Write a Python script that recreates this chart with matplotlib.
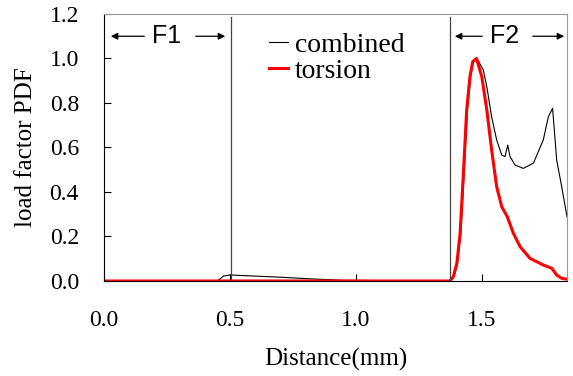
import matplotlib.pyplot as plt

# combined load factor PDF
comb_x = [0.0, 0.45, 0.474, 0.50, 0.60, 0.70, 0.83, 0.95, 1.2, 1.373, 1.389, 1.403, 1.416,
          1.429, 1.442, 1.455, 1.466, 1.48, 1.505, 1.519, 1.538, 1.558, 1.578, 1.591, 1.602,
          1.611, 1.631, 1.664, 1.704, 1.743, 1.763, 1.78, 1.796, 1.816, 1.837]
comb_y = [0.0, 0.0, 0.022, 0.027, 0.022, 0.017, 0.009, 0.003, 0.001, 0.002, 0.02, 0.08,
          0.215, 0.485, 0.768, 0.918, 0.986, 1.0, 0.948, 0.873, 0.738, 0.634, 0.566, 0.559,
          0.611, 0.559, 0.521, 0.506, 0.53, 0.634, 0.738, 0.776, 0.544, 0.424, 0.289]

# torsion load factor PDF
tor_x = [0.0, 1.373, 1.386, 1.40, 1.413, 1.426, 1.439, 1.452, 1.463, 1.478, 1.499, 1.519,
         1.538, 1.558, 1.578, 1.60, 1.624, 1.651, 1.69, 1.743, 1.777, 1.796, 1.816, 1.837]
tor_y = [0.0, 0.0, 0.019, 0.08, 0.215, 0.485, 0.768, 0.918, 0.986, 1.0, 0.918, 0.768,
         0.589, 0.424, 0.334, 0.289, 0.215, 0.154, 0.102, 0.072, 0.057, 0.027, 0.012, 0.008]

zone_lines = [0.504, 1.373]

plt.rcParams['font.family'] = ['Liberation Serif']

fig = plt.figure(figsize=(5.73, 3.76), dpi=100)
ax = fig.add_axes([0.1815, 0.2527, 0.808, 0.7101])

ax.plot(comb_x, comb_y, color='black', lw=0.8, label='combined')
ax.plot(tor_x, tor_y, color='red', lw=2.2, label='torsion')
for xv in zone_lines:
    ax.axvline(xv, color='#444444', lw=0.9, ymax=0.989)

ax.set_xlim(0, 1.837)
ax.set_ylim(0, 1.2)
ax.set_xticks([0.0, 0.5, 1.0, 1.5])
ax.set_xticklabels(['0.0', '0.5', '1.0', '1.5'])
ax.set_yticks([0.0, 0.2, 0.4, 0.6, 0.8, 1.0, 1.2])
ax.set_yticklabels(['0.0', '0.2', '0.4', '0.6', '0.8', '1.0', '1.2'])
ax.tick_params(direction='in', labelsize=17, length=5, pad=18)
ax.tick_params(axis='x', pad=21)
ax.spines['top'].set_color('#999999')
ax.spines['right'].set_color('#999999')
ax.set_xlabel('Distance(mm)', fontsize=18, labelpad=12)
ax.set_ylabel('load factor PDF', fontsize=18, labelpad=9)

# zone annotations
arr = dict(arrowstyle='-|>', color='black', lw=0.9, mutation_scale=10)
ax.annotate('', xy=(0.016, 1.10), xytext=(0.171, 1.10), arrowprops=arr)
ax.annotate('', xy=(0.492, 1.10), xytext=(0.353, 1.10), arrowprops=arr)
ax.text(0.248, 1.10, 'F1', family='Liberation Sans', fontsize=18, ha='center', va='center')
ax.annotate('', xy=(1.381, 1.10), xytext=(1.512, 1.10), arrowprops=arr)
ax.annotate('', xy=(1.837, 1.10), xytext=(1.69, 1.10), arrowprops=arr)
ax.text(1.591, 1.10, 'F2', family='Liberation Sans', fontsize=18, ha='center', va='center')

ax.legend(loc='upper left', bbox_to_anchor=(0.356, 0.93), frameon=False, fontsize=20,
          handlelength=0.7, handletextpad=0.25, borderpad=0, labelspacing=0.0,
          borderaxespad=0)

fig.savefig('out.png', dpi=100)
